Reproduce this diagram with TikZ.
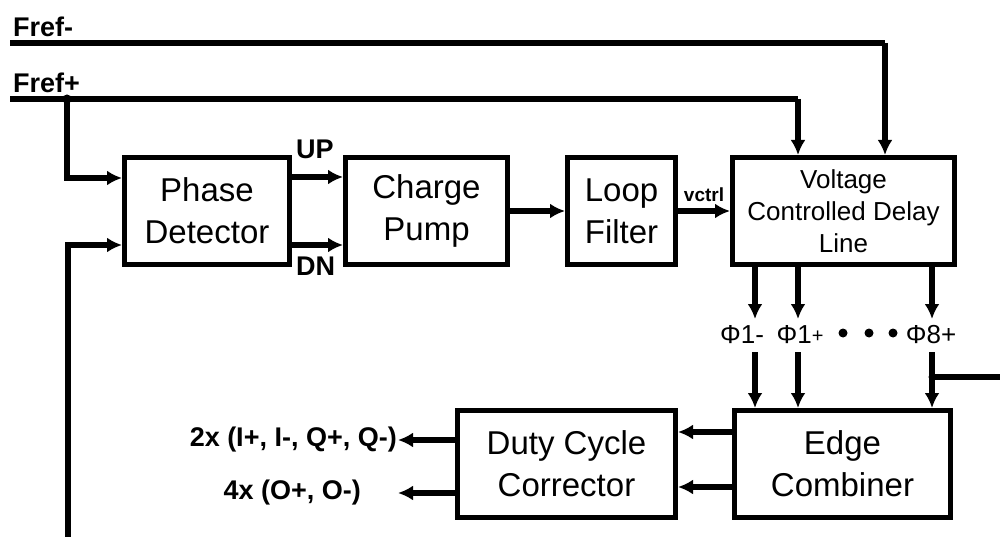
\documentclass[tikz,border=0pt]{standalone}
\usepackage{fontspec}
\setmainfont{Liberation Sans}
\usetikzlibrary{arrows.meta}
\tikzset{
  blk/.style={draw, line width=5pt, minimum height=107pt, align=center, inner sep=0pt,
    font=\fontsize{33}{42}\selectfont},
  wire/.style={line width=5.5pt},
  arr/.style={wire, -{Latex[length=15pt,width=15pt]}},
  lbl/.style={inner sep=1pt, font=\fontsize{27}{32}\selectfont\bfseries},
  phl/.style={inner sep=0pt, font=\fontsize{26}{30}\selectfont},
}
\begin{document}
\begin{tikzpicture}[x=1pt,y=-1pt]
\useasboundingbox (0,0) rectangle (1000,537);
% blocks
\node[blk, minimum width=165pt] (pd) at (207,211) {Phase\\Detector};
\node[blk, minimum width=162pt] (cp) at (426.5,211) {Charge\\Pump};
\node[blk, minimum width=108pt] (lf) at (621.5,211) {Loop\\Filter};
\node[blk, minimum width=222pt, font=\fontsize{26}{32}\selectfont] (vcdl) at (843.5,211) {Voltage\\Controlled Delay\\Line};
\node[blk, minimum width=216pt] (ec) at (842.5,464) {Edge\\Combiner};
\node[blk, minimum width=218pt] (dcc) at (566.5,464) {Duty Cycle\\Corrector};
% reference inputs
\node[lbl, anchor=south west] (lfm) at (12,38) {Fref-};
\node[lbl, anchor=south west] (lfp) at (12,94) {Fref+};
\coordinate (frm) at (10,43);
\coordinate (frmE) at (885,43);
\coordinate (frp) at (10,99);
\coordinate (frpE) at (798,99);
\coordinate (tap) at (67,99);
\coordinate (fb) at (68,540);
\draw[wire] (frm) -- (frmE);
\draw[arr] (frmE) -- (frmE |- vcdl.north);
\draw[wire] (frp) -- (frpE);
\draw[arr] (frpE) -- (frpE |- vcdl.north);
\fill (tap) circle (4.5);
\draw[arr] (tap) |- ([yshift=33pt]pd.west);
\draw[arr] (fb) |- ([yshift=-34pt]pd.west);
% PD -> CP
\draw[arr] ([yshift=34pt]pd.east) -- ([yshift=34pt]cp.west);
\draw[arr] ([yshift=-34pt]pd.east) -- ([yshift=-34pt]cp.west);
\node[lbl, anchor=south west] (up) at (295,160) {UP};
\node[lbl, anchor=north west] (dn) at (295,256) {DN};
% CP -> LF -> VCDL
\draw[arr] (cp.east) -- (lf.west);
\draw[arr] (lf.east) -- (vcdl.west);
\node[lbl, anchor=south, font=\fontsize{19}{22}\selectfont\bfseries] (vc) at (704,203) {vctrl};
% phases
\coordinate (ph1) at (755,335);
\coordinate (ph2) at (798,335);
\coordinate (ph8) at (932,335);
\node[phl] (t1) at (742,335) {Φ1-};
\node[phl] (t2) at (800,335) {Φ1\raisebox{1pt}{\fontsize{20}{24}\selectfont+}};
\node[phl] (t8) at (931,335) {Φ8+};
\fill (843,333) circle (4.5) (869,333) circle (4.5) (893,333) circle (4.5);
\foreach \p in {ph1,ph2,ph8}{
  \draw[arr] (vcdl.south -| \p) -- ([yshift=16pt]\p);
  \draw[arr] ([yshift=-17pt]\p) -- (ec.north -| \p);
}
\coordinate (rin) at (1002,377);
\draw[wire] (rin) -- (rin -| ph8);
\fill (rin -| ph8) circle (3.5);
% EC -> DCC
\draw[arr] ([yshift=32pt]ec.west) -- ([yshift=32pt]dcc.east);
\draw[arr] ([yshift=-23pt]ec.west) -- ([yshift=-23pt]dcc.east);
% outputs
\node[lbl, anchor=east] (o1) at (398,440) {2x (I+, I-, Q+, Q-)};
\node[lbl, anchor=east] (o2) at (362,493) {4x (O+, O-)};
\draw[arr] ([yshift=24pt]dcc.west) -- (o1.east);
\draw[arr] ([yshift=-29pt]dcc.west) -- (o2.east -| o1.east);
\end{tikzpicture}
\end{document}
